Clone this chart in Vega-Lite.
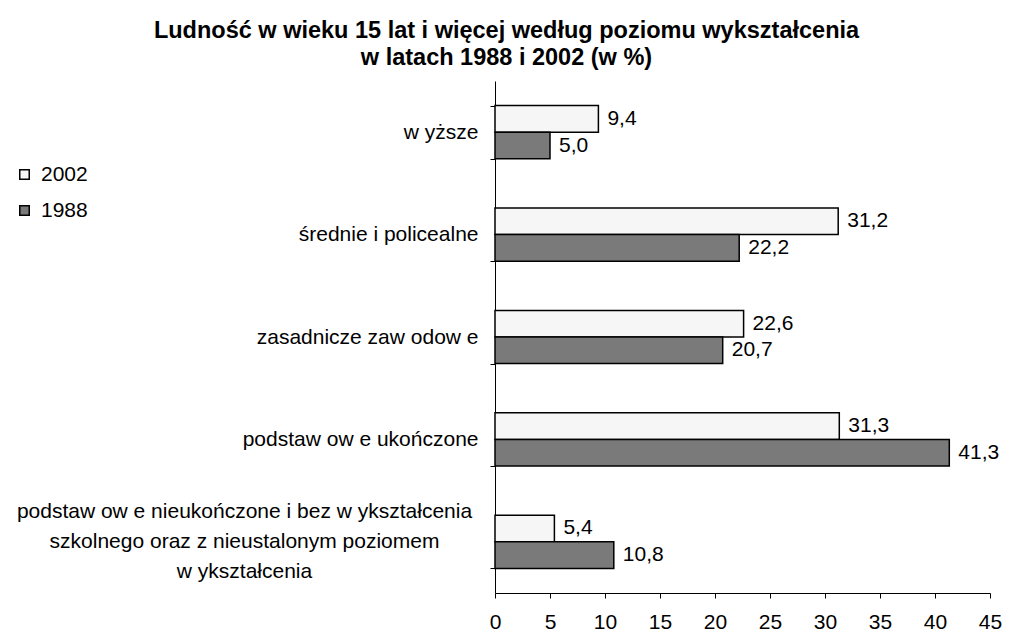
{
  "$schema": "https://vega.github.io/schema/vega-lite/v6.json",
  "width": 495,
  "height": 512,
  "autosize": "none",
  "padding": {"left": 495, "top": 81, "right": 20, "bottom": 40},
  "background": "white",
  "title": {
    "text": ["Ludność w wieku 15 lat i więcej według poziomu wykształcenia", "w latach 1988 i 2002 (w %)"],
    "font": "Liberation Sans",
    "fontSize": 23.5,
    "fontWeight": "bold",
    "color": "black",
    "anchor": "middle",
    "dx": -236,
    "offset": 1,
    "lineHeight": 27
  },
  "config": {
    "locale": {"number": {"decimal": ",", "thousands": " ", "grouping": [3], "currency": ["", " zł"]}},
    "view": {"stroke": null},
    "font": "Liberation Sans"
  },
  "data": {
    "values": [
      {"category": "w yższe", "year": "2002", "value": 9.4},
      {"category": "w yższe", "year": "1988", "value": 5.0},
      {"category": "średnie i policealne", "year": "2002", "value": 31.2},
      {"category": "średnie i policealne", "year": "1988", "value": 22.2},
      {"category": "zasadnicze zaw odow e", "year": "2002", "value": 22.6},
      {"category": "zasadnicze zaw odow e", "year": "1988", "value": 20.7},
      {"category": "podstaw ow e ukończone", "year": "2002", "value": 31.3},
      {"category": "podstaw ow e ukończone", "year": "1988", "value": 41.3},
      {"category": "podstaw ow e nieukończone i bez w ykształcenia", "year": "2002", "value": 5.4},
      {"category": "podstaw ow e nieukończone i bez w ykształcenia", "year": "1988", "value": 10.8}
    ]
  },
  "encoding": {
    "y": {
      "field": "category",
      "type": "nominal",
      "sort": null,
      "scale": {
        "domain": ["w yższe", "średnie i policealne", "zasadnicze zaw odow e", "podstaw ow e ukończone", "podstaw ow e nieukończone i bez w ykształcenia"],
        "paddingInner": 0.48,
        "paddingOuter": 0.24
      },
      "axis": {
        "title": null,
        "domainColor": "black",
        "tickColor": "black",
        "tickSize": 5,
        "tickBand": "extent",
        "labelFont": "Liberation Sans",
        "labelFontSize": 21,
        "labelColor": "black",
        "labelLimit": 0,
        "labelBaseline": "middle",
        "labelPadding": 12,
        "labelExpr": "indexof(datum.label, 'nieuko') >= 0 ? '' : datum.label",
        "grid": false
      }
    },
    "x": {
      "field": "value",
      "type": "quantitative",
      "scale": {"domain": [0, 45]},
      "axis": {
        "title": null,
        "values": [0, 5, 10, 15, 20, 25, 30, 35, 40, 45],
        "format": "d",
        "domainColor": "black",
        "tickColor": "black",
        "tickSize": 5,
        "labelFont": "Liberation Sans",
        "labelFontSize": 21,
        "labelColor": "black",
        "labelPadding": 13,
        "labelFlush": false,
        "labelOverlap": false,
        "grid": false
      }
    }
  },
  "layer": [
    {
      "mark": {"type": "bar", "stroke": "black", "strokeWidth": 1.5},
      "encoding": {
        "yOffset": {"field": "year", "type": "nominal", "sort": ["2002", "1988"]},
        "fill": {
          "field": "year",
          "type": "nominal",
          "scale": {"domain": ["2002", "1988"], "range": ["#f6f6f6", "#7a7a7a"]},
          "legend": {
            "title": null,
            "orient": "none",
            "legendX": -481,
            "legendY": 83,
            "symbolType": "square",
            "symbolSize": 90,
            "symbolStrokeColor": "black",
            "symbolStrokeWidth": 1.5,
            "labelFont": "Liberation Sans",
            "labelFontSize": 21,
            "labelColor": "black",
            "labelOffset": 6,
            "rowPadding": 14,
            "padding": 0
          }
        }
      }
    },
    {
      "mark": {"type": "text", "align": "left", "baseline": "middle", "dx": 9, "font": "Liberation Sans", "fontSize": 21, "color": "black"},
      "encoding": {
        "yOffset": {"field": "year", "type": "nominal", "sort": ["2002", "1988"]},
        "text": {"field": "value", "type": "quantitative", "format": ".1f"}
      }
    },
    {
      "data": {
        "values": [
          {"category": "podstaw ow e nieukończone i bez w ykształcenia", "value": 0, "lines": ["podstaw ow e nieukończone i bez w ykształcenia", "szkolnego oraz z nieustalonym poziomem", "w ykształcenia"]}
        ]
      },
      "mark": {"type": "text", "align": "center", "baseline": "middle", "dx": -250.5, "dy": -30, "lineHeight": 30, "font": "Liberation Sans", "fontSize": 21, "color": "black"},
      "encoding": {
        "text": {"field": "lines", "type": "nominal"}
      }
    }
  ]
}
